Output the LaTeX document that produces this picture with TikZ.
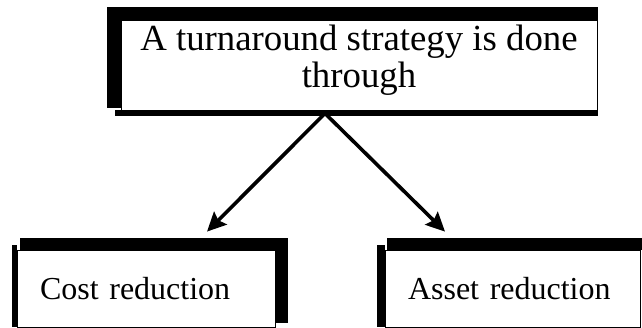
\documentclass[tikz,border=0pt]{standalone}
\usepackage{fontspec}
\setmainfont{Liberation Serif}
\usetikzlibrary{arrows.meta,backgrounds}

\begin{document}
\begin{tikzpicture}[x=1pt,y=-1pt,
    box/.style={draw,line width=0.8pt,fill=white,rectangle,inner sep=0pt},
    low/.style={box,minimum height=77pt,inner xsep=23pt,align=left,font=\fontsize{32}{36}\selectfont},
    link/.style={line width=3.6pt,-{Stealth[length=19pt,width=18pt,inset=3pt]}}]
  \useasboundingbox (0,0) rectangle (642,328);
  \node[box,minimum width=476pt,minimum height=90pt,
    label={[align=center,yshift=5pt,font=\fontsize{36.8}{37}\selectfont]center:A turnaround strategy is done\\through}] (strategy) at (359,65) {};
  \node[low,text width=212pt] (cost) at (146,288.5) {Cost reduction};
  \node[low,text width=209pt] (asset) at (512.5,288.5) {Asset reduction};
  % heavy frame edges
  \begin{scope}[on background layer]
    \fill ([shift={(-14,-13)}]strategy.north west) rectangle ([shift={(1,-2)}]strategy.south east);
    \fill ([shift={(-6,0)}]strategy.south west) rectangle ([shift={(1,6)}]strategy.south east);
    \fill ([shift={(3,-12)}]cost.north west) rectangle ([shift={(13,-4)}]cost.south east);
    \fill ([shift={(-5,-5)}]cost.north west) rectangle (cost.south west);
    \fill ([shift={(2,-12)}]asset.north west) rectangle ([shift={(2,0)}]asset.north east);
    \fill ([shift={(-8,-5)}]asset.north west) rectangle (asset.south west);
  \end{scope}
  \coordinate (fork) at ([shift={(-34,3)}]strategy.south);
  \draw[link] (fork) -- ([shift={(61,-18)}]cost.north);
  \draw[link] (fork) -- ([shift={(-67.5,-18)}]asset.north);
\end{tikzpicture}
\end{document}
